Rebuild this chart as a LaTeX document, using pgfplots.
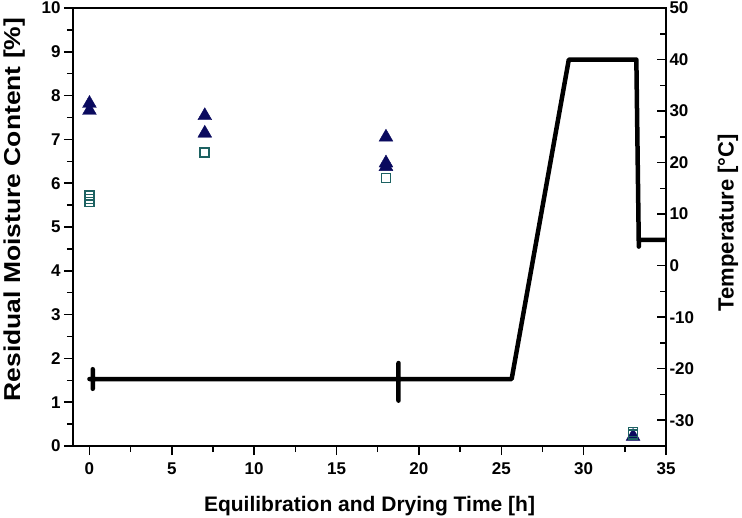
\documentclass[border=0pt]{standalone}
\usepackage{fontspec}
\setmainfont{Liberation Sans}
\newfontfamily\widefont[FakeStretch=1.15]{Liberation Sans}
\usepackage{pgfplots}
\pgfplotsset{compat=1.18}
\definecolor{navy}{HTML}{0A0A5E}
\definecolor{tealc}{HTML}{1D6262}
\begin{document}
\begin{tikzpicture}
\pgfplotsset{
  every axis/.append style={
    scale only axis, width=593bp, height=438bp,
    xmin=-1, xmax=35,
    axis line style={line width=1.6bp},
    every tick/.style={line width=1.5bp, black},
    major tick length=9bp, minor tick length=6bp,
    /pgf/number format/assume math mode=true,
    tick label style={font=\bfseries\fontsize{17bp}{19bp}\selectfont},
    label style={font=\bfseries\fontsize{22bp}{24bp}\selectfont},
  }
}
\begin{axis}[
  ymin=0, ymax=10,
  xtick={0,5,...,35}, ytick={0,1,...,10},
  minor x tick num=1, minor y tick num=1,
  xtick pos=bottom, ytick pos=left, tick align=outside,
  xticklabel style={yshift=-4bp},
  xlabel={Equilibration and Drying Time [h]},
  ylabel={Residual Moisture Content [\%]},
  xlabel style={at={(axis description cs:0.5,-0.138)}, anchor=center, font=\bfseries\fontsize{21bp}{23bp}\selectfont},
  ylabel style={at={(axis description cs:-0.099,0.54)}, anchor=center, font=\widefont\bfseries\fontsize{23bp}{25bp}\selectfont},
]
\addplot[only marks, mark=triangle*, mark size=8bp, color=navy] coordinates {
  (0,7.82) (0,7.66) (7,7.54) (7,7.14) (18,7.05) (18,6.46) (18,6.38) (33,0.22)
};
\addplot[only marks, mark=square, mark size=4.5bp, color=tealc, mark options={line width=1.8bp, fill=white}] coordinates {
  (0,5.72) (0,5.64) (0,5.57) (7,6.70) (18,6.12) (33,0.32) (33,0.26)
};
\end{axis}
\begin{axis}[
  ymin=-35, ymax=50,
  axis x line=none, axis y line*=right,
  ytick={-30,-20,...,50}, minor y tick num=1,
  ytick align=inside,
  ylabel={Temperature [°C]},
  ylabel style={at={(axis description cs:1.1046,0.51)}, anchor=center, rotate=0},
]
\addplot[black, line width=4.5bp, line join=round, line cap=round] coordinates {
  (0,-22) (0.2,-22) (0.2,-20.1) (0.2,-23.9) (0.2,-22)
  (18.76,-22) (18.76,-18.9) (18.76,-26.2) (18.76,-22)
  (25.63,-22) (29.1,40) (33.2,40) (33.35,3.7) (33.35,5) (35,5)
};
\end{axis}
\pgfresetboundingbox
\path (-73bp,-72bp) rectangle (669bp,446bp);
\end{tikzpicture}
\end{document}
